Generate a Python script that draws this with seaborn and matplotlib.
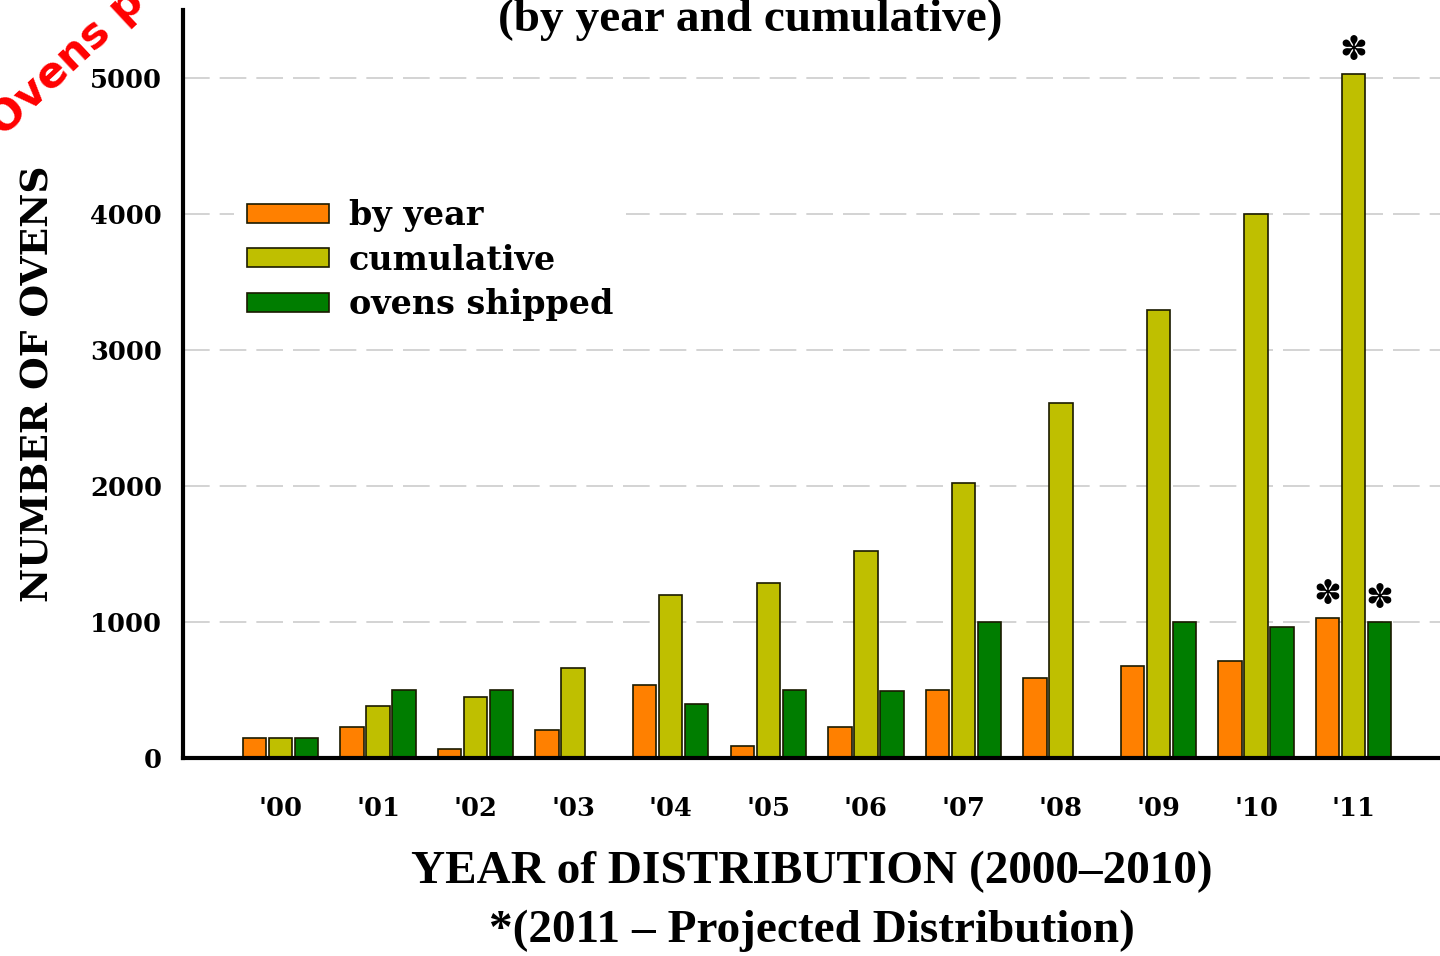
import pandas as pd
import seaborn as sns
import matplotlib.pyplot as plt

years = ["'00", "'01", "'02", "'03", "'04", "'05", "'06", "'07", "'08", "'09", "'10", "'11"]
by_year = [150, 230, 70, 210, 540, 90, 230, 500, 590, 680, 710, 1030]
cumulative = [150, 380, 450, 660, 1200, 1290, 1520, 2020, 2610, 3290, 4000, 5030]
shipped = [145, 500, 500, None, 400, 500, 490, 1000, None, 1000, 960, 1000]

series = ["by year", "cumulative", "ovens shipped"]
palette = {"by year": "#ff8000", "cumulative": "#bfbf00", "ovens shipped": "#007d00"}

rows = []
for i, yr in enumerate(years):
    for name, vals in zip(series, [by_year, cumulative, shipped]):
        if vals[i] is not None:
            rows.append({"year": yr, "series": name, "ovens": vals[i]})
df = pd.DataFrame(rows)

sns.set_style("white")
plt.rcParams["font.family"] = ["DejaVu Serif", "DejaVu Sans"]
plt.rcParams["text.color"] = "black"
plt.rcParams["axes.labelcolor"] = "black"
plt.rcParams["xtick.color"] = "black"
plt.rcParams["ytick.color"] = "black"

fig = plt.figure(figsize=(14.4, 9.56), dpi=100)
ax = fig.add_axes([0.127, 0.207, 0.874, 0.783])

sns.barplot(
    data=df,
    x="year",
    y="ovens",
    hue="series",
    hue_order=series,
    order=years,
    palette=palette,
    width=0.8,
    gap=0.1,
    errorbar=None,
    edgecolor="#1a1a00",
    linewidth=1.2,
    saturation=1,
    ax=ax,
)

ax.set_xlim(-1, 11.9)
ax.set_ylim(0, 5500)
ax.set_yticks([0, 1000, 2000, 3000, 4000, 5000])
ax.yaxis.grid(True, linestyle=(0, (16, 6)), color="#cccccc", linewidth=1.2)
ax.set_axisbelow(True)

for side in ["top", "right"]:
    ax.spines[side].set_visible(False)
for side in ["left", "bottom"]:
    ax.spines[side].set_linewidth(3)
    ax.spines[side].set_color("black")

ax.tick_params(axis="both", which="major", direction="out", length=7, width=3,
               color="black", labelsize=18.5, pad=8)
ax.tick_params(axis="x", pad=20)
for lbl in ax.get_xticklabels() + ax.get_yticklabels():
    lbl.set_fontweight("bold")

ax.set_ylabel("NUMBER OF OVENS", fontsize=27, fontweight="bold", labelpad=24)
ax.set_xlabel("YEAR of DISTRIBUTION (2000\u20132010)\n*(2011 \u2013 Projected Distribution)",
              fontsize=34, fontweight="bold", family="Liberation Serif",
              labelpad=22, linespacing=1.5)

# asterisks over the projected 2011 bars
for cont in ax.containers:
    bar = cont.patches[-1]
    ax.annotate("✽", (bar.get_x() + bar.get_width() / 2, bar.get_height()),
                xytext=(0, 5), textcoords="offset points", ha="center", va="bottom",
                fontsize=24, family="DejaVu Sans")

leg = ax.legend(loc="upper left", bbox_to_anchor=(0.027, 0.787),
                prop={"size": 24, "weight": "bold"},
                frameon=True, facecolor="white", edgecolor="none", framealpha=1,
                handlelength=2.45, handleheight=0.5, handletextpad=0.6,
                labelspacing=0.35, borderpad=0.4)
for h in leg.legend_handles:
    h.set_edgecolor("#1a1a00")

fig.text(0.521, 1 - 31 / 956, "(by year and cumulative)", ha="center", va="baseline",
         fontsize=34, fontweight="bold", family="Liberation Serif")
fig.text(0.002, 1 - 137 / 956, "Ovens p", rotation=43, rotation_mode="anchor",
         ha="left", va="baseline", fontsize=31, fontweight="bold",
         color="#ff0000", family="DejaVu Sans")

plt.savefig("out.png", dpi=100)
